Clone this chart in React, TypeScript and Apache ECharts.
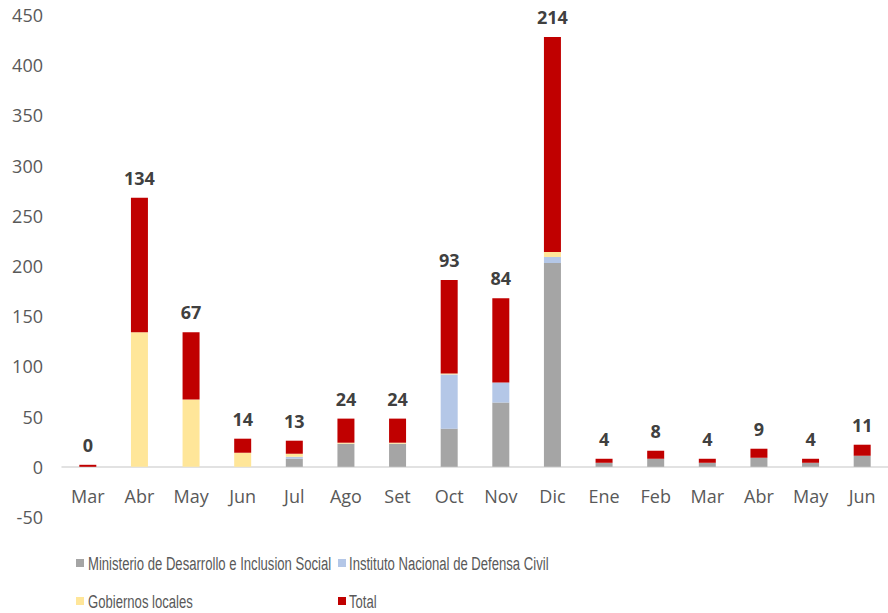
import React, { useEffect, useRef } from "react";
import * as echarts from "echarts";

const categories = ["Mar", "Abr", "May", "Jun", "Jul", "Ago", "Set", "Oct", "Nov", "Dic", "Ene", "Feb", "Mar", "Abr", "May", "Jun"];
const ministerio = [0, 0, 0, 0, 8, 23, 23, 38, 64, 203, 4, 8, 4, 9, 4, 11];
const instituto = [0, 0, 0, 0, 2, 0, 0, 54, 20, 6, 0, 0, 0, 0, 0, 0];
const gobiernos = [0, 134, 67, 14, 3, 1, 1, 1, 0, 5, 0, 0, 0, 0, 0, 0];
const total = [0, 134, 67, 14, 13, 24, 24, 93, 84, 214, 4, 8, 4, 9, 4, 11];
const yTicks = { min: -50, max: 450, interval: 50 };

const names = [
  "Ministerio de Desarrollo e Inclusion Social",
  "Instituto Nacional de Defensa Civil",
  "Gobiernos locales",
  "Total",
];
const colors = ["#A5A5A5", "#B4C7E7", "#FFE699", "#C00000"];

export default function App() {
  const ref = useRef<HTMLDivElement>(null);
  useEffect(() => {
    if (!ref.current) return;
    const chart = echarts.init(ref.current, null, { renderer: "svg" });
    const font = "'Open Sans', 'Noto Sans', sans-serif";
    const legendBase = {
      orient: "vertical",
      top: 559,
      padding: 0,
      itemWidth: 8,
      itemHeight: 8,
      itemGap: 30,
      icon: "rect",
      formatter: () => "",
      textStyle: { fontSize: 1 },
    };
    // legend labels drawn as horizontally condensed text (narrow font look)
    const legendPos = [
      { name: names[0], x: 88, y: 563 },
      { name: names[1], x: 349, y: 563 },
      { name: names[2], x: 88, y: 601 },
      { name: names[3], x: 349, y: 601 },
    ];
    const datasets = [ministerio, instituto, gobiernos, total];
    chart.setOption({
      animation: false,
      grid: { left: 62, right: -13, top: 15, bottom: 96, containLabel: false },
      legend: [
        { ...legendBase, left: 76, data: [names[0], names[2]] },
        { ...legendBase, left: 338, data: [names[1], names[3]] },
      ],
      graphic: legendPos.map((p) => ({
        type: "text",
        x: p.x,
        y: p.y,
        scaleX: 0.69,
        silent: true,
        style: {
          text: p.name,
          x: 0,
          y: 0,
          fontSize: 19,
          fontFamily: "'Liberation Sans', Arial, sans-serif",
          fill: "#595959",
          verticalAlign: "middle",
          align: "left",
        },
      })),
      xAxis: {
        type: "category",
        data: categories,
        axisLine: { onZero: true, lineStyle: { color: "#D9D9D9", width: 1.5 } },
        axisTick: { show: false },
        axisLabel: { color: "#595959", fontSize: 18, fontFamily: font, margin: -30 },
      },
      yAxis: {
        type: "value",
        min: yTicks.min,
        max: yTicks.max,
        interval: yTicks.interval,
        axisLine: { show: false },
        axisTick: { show: false },
        splitLine: { show: false },
        axisLabel: { color: "#595959", fontSize: 18, fontFamily: font, margin: 19 },
      },
      series: datasets.map((d, i) => ({
        name: names[i],
        type: "bar",
        stack: "s",
        data: d,
        barWidth: 17,
        itemStyle: { color: colors[i] },
        barMinHeight: i === 3 ? 2 : 0,
        label:
          i === 3
            ? {
                show: true,
                position: "top",
                distance: 11,
                color: "#404040",
                fontWeight: "bold",
                fontSize: 18,
                fontFamily: font,
              }
            : { show: false },
      })),
    });
    return () => chart.dispose();
  }, []);
  return (
    <div
      ref={ref}
      style={{ position: "fixed", left: 0, top: 0, width: 888, height: 613, background: "#fff" }}
    />
  );
}
